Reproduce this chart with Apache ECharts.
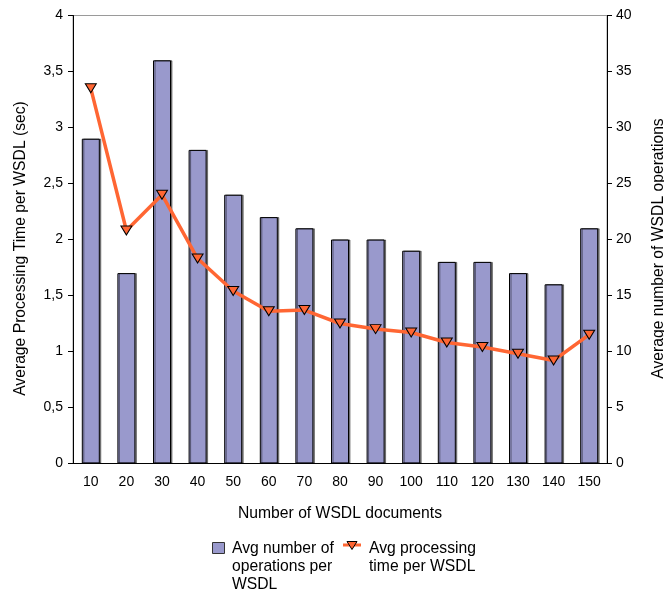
<!DOCTYPE html>
<html>
<head>
<meta charset="utf-8">
<script src="https://cdn.jsdelivr.net/npm/echarts@6/dist/echarts.min.js"></script>
<style>
  html, body { margin: 0; padding: 0; background: #fff; overflow: hidden; }
  #chart { width: 664px; height: 595px; }
</style>
</head>
<body>
<div id="chart"></div>
<script>
// WSDL corpus sizes on the x axis
const documents = ['10', '20', '30', '40', '50', '60', '70', '80', '90', '100', '110', '120', '130', '140', '150'];
// Average number of operations per WSDL (right axis)
const avgOperations = [29, 17, 36, 28, 24, 22, 21, 20, 20, 19, 18, 18, 17, 16, 21];
// Average processing time per WSDL in seconds (left axis)
const avgTime = [3.35, 2.08, 2.40, 1.83, 1.54, 1.36, 1.37, 1.25, 1.20, 1.17, 1.08, 1.04, 0.98, 0.92, 1.15];

const opsName = 'Avg number of\noperations per\nWSDL';
const timeName = 'Avg processing\ntime per WSDL';

const BAR_COLOR = '#9999cc';
const LINE_COLOR = '#ff6633';
const FONT = '"Liberation Sans", Arial, sans-serif';
const title = { fontFamily: FONT, fontSize: 15.7, color: '#000' };
// vertical axis titles sit slightly below the plot's middle
const sideTitle = Object.assign({ padding: [0, 18, 0, 0] }, title);
const tick = { fontFamily: FONT, fontSize: 14, color: '#000' };

const chart = echarts.init(document.getElementById('chart'), null, { renderer: 'canvas' });

// Legend is drawn by hand so that the multi-line captions hang from their first line
const legendFont = '15.7px ' + FONT;
const legendGraphics = [
  {
    type: 'rect',
    shape: { x: 212.5, y: 542.5, width: 12, height: 11 },
    style: { fill: BAR_COLOR, stroke: '#333', lineWidth: 1 }
  },
  {
    type: 'text',
    style: { text: opsName, x: 232, y: 540, font: legendFont, lineHeight: 18, fill: '#000', verticalAlign: 'top' }
  },
  {
    type: 'line',
    shape: { x1: 343, y1: 545, x2: 361, y2: 545 },
    style: { stroke: LINE_COLOR, lineWidth: 3 }
  },
  {
    type: 'polygon',
    shape: { points: [[347, 541.5], [357, 541.5], [352, 549.5]] },
    style: { fill: LINE_COLOR, stroke: '#000', lineWidth: 1 }
  },
  {
    type: 'text',
    style: { text: timeName, x: 369, y: 540, font: legendFont, lineHeight: 18, fill: '#000', verticalAlign: 'top' }
  }
];

chart.setOption({
  animation: false,
  backgroundColor: '#fff',
  textStyle: { fontFamily: FONT },
  grid: {
    left: 73, right: 57, top: 15.5, bottom: 131.5,
    containLabel: false,
    outerBoundsMode: 'none',
    show: true, borderColor: '#9a9a9a', borderWidth: 1
  },
  graphic: legendGraphics,
  xAxis: {
    type: 'category',
    data: documents,
    name: 'Number of WSDL documents',
    nameLocation: 'middle',
    nameGap: 42,
    nameTextStyle: title,
    axisLine: { lineStyle: { color: '#000', width: 1 } },
    axisTick: { length: 5, lineStyle: { color: '#000' } },
    axisLabel: Object.assign({ interval: 0, margin: 12 }, tick)
  },
  yAxis: [
    {
      type: 'value', min: 0, max: 4, interval: 0.5,
      name: 'Average Processing Time per WSDL (sec)',
      nameLocation: 'middle', nameRotate: 90, nameGap: 44,
      nameTextStyle: sideTitle,
      axisLine: { show: true, lineStyle: { color: '#000' } },
      axisTick: { show: true, length: 5, lineStyle: { color: '#000' } },
      splitLine: { show: false },
      axisLabel: Object.assign({ margin: 10, formatter: v => String(v).replace('.', ',') }, tick)
    },
    {
      type: 'value', min: 0, max: 40, interval: 5,
      name: 'Average number of WSDL operations',
      nameLocation: 'middle', nameRotate: 90, nameGap: 44,
      nameTextStyle: sideTitle,
      axisLine: { show: true, lineStyle: { color: '#000' } },
      axisTick: { show: true, length: 5, lineStyle: { color: '#000' } },
      splitLine: { show: false },
      axisLabel: Object.assign({ margin: 9 }, tick)
    }
  ],
  series: [
    {
      name: opsName,
      type: 'bar',
      yAxisIndex: 1,
      data: avgOperations,
      barWidth: 18,
      itemStyle: {
        color: BAR_COLOR, borderColor: '#000', borderWidth: 1,
        shadowColor: 'rgba(0,0,0,0.45)', shadowOffsetX: 1.5, shadowBlur: 0
      }
    },
    {
      name: timeName,
      type: 'line',
      yAxisIndex: 0,
      data: avgTime,
      lineStyle: { color: LINE_COLOR, width: 3.5 },
      symbol: 'triangle',
      symbolRotate: 180,
      symbolSize: [11, 9],
      itemStyle: { color: LINE_COLOR, borderColor: '#000', borderWidth: 1 },
      z: 5
    }
  ]
});
</script>
</body>
</html>
